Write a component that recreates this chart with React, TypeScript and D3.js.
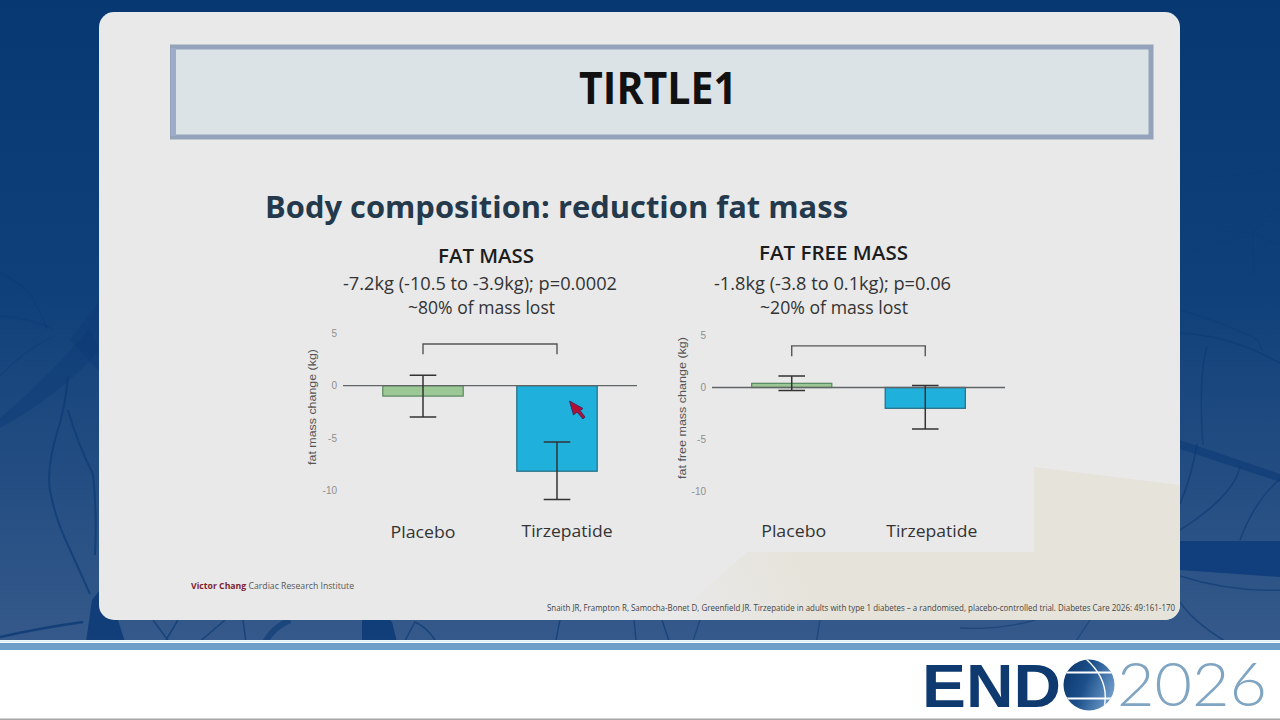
import React, { useEffect, useRef } from 'react';
import * as d3 from 'd3';

const categories = ['Placebo', 'Tirzepatide'];
const yTicks = [5, 0, -5, -10];

// values (kg)
const fatMassMeans = [-1.0, -8.2];
const fatMassErrHigh = [1.0, -5.4];
const fatMassErrLow = [-3.0, -10.9];
const fatFreeMeans = [0.4, -2.0];
const fatFreeErrHigh = [1.1, 0.2];
const fatFreeErrLow = [-0.3, -4.0];

const barColors = ['#9cc896', '#1fb1db'];
const barStrokes = ['#5f8d68', '#2b7288'];

const SANS = '"Open Sans", sans-serif';
const ARIAL = '"Liberation Sans", Arial, sans-serif';

// background veins: [path, stroke width, opacity]
const veins: [string, number, number][] = [
    ['M0,273 Q25,285 33,299 T47,329', 1.4, 0.4],
    ['M0,316 Q30,318 53,329', 1.3, 0.4],
    ['M0,376 Q25,350 50,338', 1.3, 0.4],
    ['M68,376 Q66,400 60,423 Q46,465 50,491 Q56,520 67,543 L90,594', 2, 0.7],
    ['M68,410 Q78,445 93,474 Q97,510 95,555', 2, 0.7],
    ['M0,637 Q40,628 83,622', 2.6, 0.8],
    ['M1180,333 Q1220,335 1258,352 L1280,363', 1.4, 0.6],
    ['M1180,310 Q1230,325 1258,340 L1262,350', 1.2, 0.5],
    ['M1207,346 Q1198,380 1203,445', 1.5, 0.6],
    ['M1197,444 Q1192,475 1180,504', 1.7, 0.65],
    ['M1180,530 Q1235,495 1240,466', 1.5, 0.65],
    ['M1240,540 Q1255,500 1280,479', 1.5, 0.65],
    ['M1180,576 Q1230,592 1280,590', 1.4, 0.65],
    ['M1180,602 Q1195,625 1240,650', 1.4, 0.65],
    ['M1180,183 Q1230,175 1280,170', 1, 0.25],
    ['M1253,233 L1215,230 M1253,233 L1280,205 M1253,233 L1254,275 M1253,233 L1235,205 M1253,233 L1190,252 M1253,233 L1280,245', 0.8, 0.3],
    ['M153,620 L175,650 M178,620 L160,650 M225,620 L190,650', 1.5, 0.7],
    ['M243,620 L247,650', 1.5, 0.7],
    ['M290,620 Q268,630 262,650', 6, 0.6],
    ['M400,650 L415,622 Q432,630 440,650', 1.4, 0.7],
    ['M560,620 L554,650 M634,620 L637,650 M662,620 L672,650', 1.3, 0.7],
    ['M700,620 L690,650 M820,620 L815,650 M1035,620 Q1000,630 960,628 M1090,620 L1070,650', 1.3, 0.55],
];

interface PanelProps {
    means: number[];
    errHigh: number[];
    errLow: number[];
    xRange: [number, number];
    yRange: [number, number];
    yLabel: string;
    yLabelX: number;
    yLabelY: number;
    yLabelLen: number;
    labelOffsets: number[];
    labelYs: number[];
}

const Panel: React.FC<PanelProps> = ({ means, errHigh, errLow, xRange, yRange, yLabel, yLabelX, yLabelY, yLabelLen, labelOffsets, labelYs }) => {
    const gRef = useRef<SVGGElement>(null);

    useEffect(() => {
        if (!gRef.current) return;
        const g = d3.select(gRef.current);
        g.selectAll('*').remove();

        const x = d3.scaleBand<string>().domain(categories).range(xRange).paddingInner(0.4).paddingOuter(0.297);
        const y = d3.scaleLinear().domain([5, -10]).range(yRange);

        // Axis
        const axis = d3.axisLeft(y).tickValues(yTicks).tickSize(0).tickPadding(0).tickFormat(d => String(d));
        const axisG = g.append('g').attr('transform', `translate(${xRange[0] - 6},0)`).call(axis);
        axisG.select('.domain').remove();
        axisG.selectAll('text')
            .attr('font-family', ARIAL)
            .attr('font-size', 10)
            .attr('fill', '#8f8f8f');

        g.append('text')
            .attr('transform', `translate(${yLabelX},${yLabelY}) rotate(-90)`)
            .attr('text-anchor', 'middle')
            .attr('font-family', ARIAL)
            .attr('font-size', 11.5)
            .attr('fill', '#555')
            .attr('textLength', yLabelLen)
            .attr('lengthAdjust', 'spacingAndGlyphs')
            .text(yLabel);

        // Bars
        categories.forEach((c, i) => {
            const top = Math.min(y(means[i]), y(0));
            const h = Math.abs(y(means[i]) - y(0));
            g.append('rect')
                .attr('x', x(c)!)
                .attr('y', top)
                .attr('width', x.bandwidth())
                .attr('height', h)
                .attr('fill', barColors[i])
                .attr('stroke', barStrokes[i])
                .attr('stroke-width', 1.3);
        });

        // Zero line
        g.append('line')
            .attr('x1', xRange[0])
            .attr('x2', xRange[1])
            .attr('y1', y(0))
            .attr('y2', y(0))
            .attr('stroke', '#626565')
            .attr('stroke-width', 1.3);

        // Error bars
        categories.forEach((c, i) => {
            const cx = x(c)! + x.bandwidth() / 2;
            const err = d3.path();
            err.moveTo(cx, y(errHigh[i]));
            err.lineTo(cx, y(errLow[i]));
            [errHigh[i], errLow[i]].forEach(v => {
                err.moveTo(cx - 13.3, y(v));
                err.lineTo(cx + 13.3, y(v));
            });
            g.append('path').attr('d', err.toString()).attr('fill', 'none').attr('stroke', '#333').attr('stroke-width', 1.5);

            g.append('text')
                .attr('x', cx + labelOffsets[i])
                .attr('y', labelYs[i])
                .attr('text-anchor', 'middle')
                .attr('font-family', SANS)
                .attr('font-size', 17)
                .attr('fill', '#333')
                .attr('textLength', i === 0 ? 65 : 91)
                .attr('lengthAdjust', 'spacingAndGlyphs')
                .text(c);
        });

        // Significance bracket
        const cx0 = x(categories[0])! + x.bandwidth() / 2;
        const cx1 = x(categories[1])! + x.bandwidth() / 2;
        const bracket = d3.path();
        bracket.moveTo(cx0, y(3));
        bracket.lineTo(cx0, y(4));
        bracket.lineTo(cx1, y(4));
        bracket.lineTo(cx1, y(3));
        g.append('path').attr('d', bracket.toString()).attr('fill', 'none').attr('stroke', '#555').attr('stroke-width', 1.4);
    }, [means, errHigh, errLow, xRange, yRange, yLabel, yLabelX, yLabelY, yLabelLen, labelOffsets, labelYs]);

    return <g ref={gRef} />;
};

const Txt: React.FC<{ x: number; y: number; len: number; size: number; weight?: number; fill?: string; family?: string; children: React.ReactNode }> = ({ x, y, len, size, weight = 400, fill = '#333', family = SANS, children }) => (
    <text x={x} y={y} fontFamily={family} fontSize={size} fontWeight={weight} fill={fill} textLength={len} lengthAdjust="spacingAndGlyphs">
        {children}
    </text>
);

export default function App() {
    return (
        <svg width={1280} height={720} viewBox="0 0 1280 720" style={{ position: 'fixed', left: 0, top: 0, display: 'block' }}>
            <defs>
                <linearGradient id="bg" x1="0" y1="0" x2="0" y2="1">
                    <stop offset="0" stopColor="#083872" />
                    <stop offset="0.45" stopColor="#0f4079" />
                    <stop offset="1" stopColor="#35598a" />
                </linearGradient>
                <linearGradient id="beige" gradientUnits="userSpaceOnUse" x1="670" y1="620" x2="800" y2="560">
                    <stop offset="0" stopColor="#e9e9ea" />
                    <stop offset="1" stopColor="#e6e3da" />
                </linearGradient>
                <linearGradient id="globe" x1="0" y1="0.2" x2="1" y2="0.6">
                    <stop offset="0" stopColor="#0c376d" />
                    <stop offset="0.45" stopColor="#1c4f8a" />
                    <stop offset="1" stopColor="#6d9ccb" />
                </linearGradient>
                <clipPath id="panelClip">
                    <rect x={99} y={12} width={1081} height={608} rx={15} />
                </clipPath>
                <clipPath id="globeClip">
                    <circle cx={1089} cy={685} r={25.5} />
                </clipPath>
            </defs>

            <rect width={1280} height={642} fill="url(#bg)" />

            {/* decorative veins behind the slide */}
            <path d="M0,418 Q40,385 90,328 L100,350 Q60,395 0,428 Z" fill="#0c3a75" opacity={0.4} />
            <path d="M70,340 L100,300 L100,372 Z" fill="#0c3a75" opacity={0.4} />
            <path d="M1180,440 L1280,474 L1280,482 L1180,449 Z" fill="#123f78" opacity={0.8} />
            <path d="M1180,541 L1280,541 L1280,577 L1180,570 Z" fill="#0e3d7c" opacity={0.9} />
            <path d="M86,642 L125,642 L118,620 L100,590 L92,600 Z" fill="#0c3a75" opacity={0.85} />
            <path d="M362,642 L397,642 L392,622 L388,618 L362,618 Z" fill="#0c3a75" opacity={0.85} />
            {veins.map(([d, w, o], i) => (
                <path key={i} d={d} fill="none" stroke="#0c3a75" strokeWidth={w} opacity={o} />
            ))}

            {/* slide panel */}
            <rect x={99} y={12} width={1081} height={608} rx={15} fill="#e9e9ea" />
            <g clipPath="url(#panelClip)">
                <path d="M670,620 L747,552 L1034,552 L1034,467 L1180,485 L1180,620 Z" fill="url(#beige)" />
            </g>

            {/* title box */}
            <rect x={172.5} y={47} width={978.5} height={90} fill="#dce3e6" stroke="#94a3bb" strokeWidth={5} />
            <rect x={171} y={48} width={5} height={88} fill="#9eacc9" />
            <Txt x={579} y={104} len={158} size={44} weight={700} fill="#111">TIRTLE1</Txt>

            <Txt x={265} y={218} len={583} size={31} weight={700} fill="#24394b">Body composition: reduction fat mass</Txt>

            <Txt x={438} y={263} len={96} size={20} weight={600} fill="#1c1c1c">FAT MASS</Txt>
            <Txt x={343} y={290} len={274} size={17.5} fill="#333">-7.2kg (-10.5 to -3.9kg); p=0.0002</Txt>
            <Txt x={408} y={314} len={147} size={17.5} fill="#333">~80% of mass lost</Txt>

            <Txt x={759} y={260} len={149} size={20} weight={600} fill="#1c1c1c">FAT FREE MASS</Txt>
            <Txt x={714} y={290} len={237} size={17.5} fill="#333">-1.8kg (-3.8 to 0.1kg); p=0.06</Txt>
            <Txt x={760} y={314} len={148} size={17.5} fill="#333">~20% of mass lost</Txt>

            <Panel
                means={fatMassMeans}
                errHigh={fatMassErrHigh}
                errLow={fatMassErrLow}
                xRange={[343, 637]}
                yRange={[333.5, 490]}
                yLabel="fat mass change (kg)"
                yLabelX={316}
                yLabelY={407}
                yLabelLen={116}
                labelOffsets={[0, 10]}
                labelYs={[538, 537]}
            />
            <Panel
                means={fatFreeMeans}
                errHigh={fatFreeErrHigh}
                errLow={fatFreeErrLow}
                xRange={[712, 1005]}
                yRange={[335.5, 491.5]}
                yLabel="fat free mass change (kg)"
                yLabelX={686}
                yLabelY={408}
                yLabelLen={142}
                labelOffsets={[2, 6.5]}
                labelYs={[537, 537]}
            />

            {/* pointer on the slide */}
            <path d="M569.5,401 L583,408.5 L580,410.5 L585,417 L583,419 L577,412 L573.5,415 Z" fill="#b30f35" stroke="#3a2a60" strokeWidth={0.9} />

            <text x={191} y={589} fontFamily={SANS} fontSize={8.7}>
                <tspan fontWeight={700} fill="#7b1e30">Victor Chang</tspan>
                <tspan fill="#555"> Cardiac Research Institute</tspan>
            </text>
            <Txt x={547} y={611} len={628} size={8.4} fill="#444">Snaith JR, Frampton R, Samocha-Bonet D, Greenfield JR. Tirzepatide in adults with type 1 diabetes – a randomised, placebo-controlled trial. Diabetes Care 2026: 49:161-170</Txt>

            {/* footer */}
            <rect y={640} width={1280} height={80} fill="#fff" />
            <rect y={640.5} width={1280} height={1.5} fill="#dcecf5" />
            <rect y={643} width={1280} height={7} fill="#6f9dca" />
            <rect y={718.5} width={1280} height={1.5} fill="#a6a6a6" />

            {/* ENDO 2026 logo */}
            <Txt x={922} y={706.5} len={139} size={62} weight={700} fill="#0e3a70" family={ARIAL}>END</Txt>
            <circle cx={1089} cy={685} r={25.5} fill="url(#globe)" />
            <g clipPath="url(#globeClip)">
                <rect x={1060} y={671.5} width={60} height={2} fill="#fff" />
                <rect x={1060} y={697.5} width={60} height={2} fill="#fff" />
                <path d="M1086,659 Q1112,682 1103,712" fill="none" stroke="#fff" strokeWidth={1.4} />
            </g>
            <Txt x={1117} y={705.5} len={150} size={62} weight={300} fill="#7fa5c2" family="Lato, sans-serif">2026</Txt>
        </svg>
    );
}
